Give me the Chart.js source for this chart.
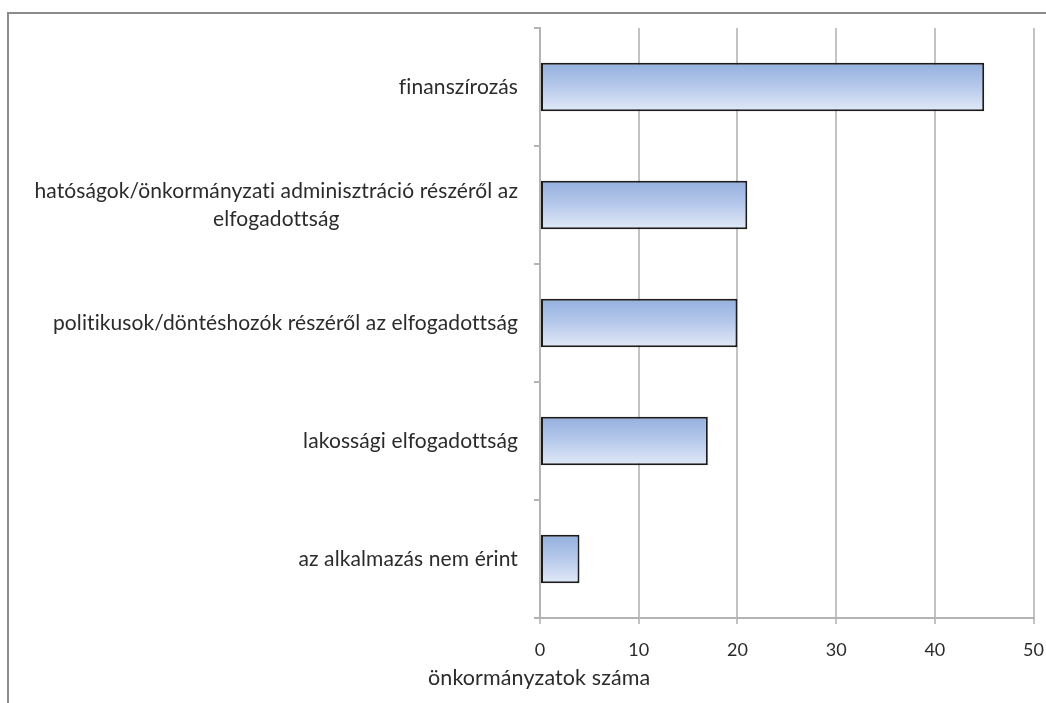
<!DOCTYPE html>
<html>
<head>
<meta charset="utf-8">
<script src="https://cdn.jsdelivr.net/npm/chart.js@4/dist/chart.umd.min.js"></script>
<style>
  html, body { margin: 0; padding: 0; background: #fff; overflow: hidden; }
  #wrap { position: relative; width: 1046px; height: 703px; overflow: hidden; }
  #frame { position: absolute; left: 7px; top: 12px; width: 1100px; height: 800px;
           border-top: 2px solid #8c8c8c; border-left: 2px solid #8c8c8c; }
  #c { position: absolute; left: 0; top: 0; }
</style>
</head>
<body>
<div id="wrap">
  <div id="frame"></div>
  <canvas id="c" width="1059" height="703"></canvas>
</div>
<script>
// kategóriák (sorok), több soros címkék tömbként
const categories = [
  ['finanszírozás'],
  ['hatóságok/önkormányzati adminisztráció részéről az', 'elfogadottság'],
  ['politikusok/döntéshozók részéről az elfogadottság'],
  ['lakossági elfogadottság'],
  ['az alkalmazás nem érint']
];
const counts = [45, 21, 20, 17, 4];
const xMin = 0;
const xMax = 50;
const xStep = 10;
const axisTitle = 'önkormányzatok száma';

const BAR_PCT = 0.41;
const FONT = 'Lato, "Open Sans", sans-serif';
const TEXT = '#2b2b2b';

function barGradient(c) {
  const chart = c.chart;
  const ys = chart.scales.y;
  if (!chart.chartArea || !ys) return '#b8cbea';
  const cy = ys.getPixelForValue(c.dataIndex);
  const h = (ys.height / categories.length) * BAR_PCT;
  const g = chart.ctx.createLinearGradient(0, cy - h / 2, 0, cy + h / 2);
  g.addColorStop(0, '#94b0de');
  g.addColorStop(0.45, '#b3c6ea');
  g.addColorStop(1, '#e1e9f7');
  return g;
}

// kategória címkék: jobbra igazítva, a sorok egymáshoz képest középre
const labelPlugin = {
  id: 'catLabels',
  afterDraw(chart) {
    const ctx = chart.ctx;
    const ys = chart.scales.y;
    ctx.save();
    ctx.fillStyle = TEXT;
    ctx.textBaseline = 'middle';
    ctx.textAlign = 'center';
    ctx.letterSpacing = '0.1px';
    ctx.font = '21px ' + FONT;
    const right = ys.right - 22;
    const lh = 28;
    categories.forEach((lines, i) => {
      const cy = ys.getPixelForValue(i);
      const w = Math.max(...lines.map(l => ctx.measureText(l).width));
      const cx = right - w / 2;
      lines.forEach((l, j) => ctx.fillText(l, cx, cy + (j - (lines.length - 1) / 2) * lh));
    });
    ctx.textAlign = 'left';
    ctx.font = '21.5px ' + FONT;
    ctx.fillText(axisTitle, 428, 678);
    ctx.restore();
  }
};

new Chart(document.getElementById('c'), {
  type: 'bar',
  data: {
    labels: categories.map(l => l.join(' ')),
    datasets: [{
      data: counts,
      backgroundColor: barGradient,
      borderColor: '#1c1c1c',
      borderWidth: 2,
      borderSkipped: false,
      barPercentage: BAR_PCT,
      categoryPercentage: 1
    }]
  },
  options: {
    indexAxis: 'y',
    responsive: false,
    animation: false,
    layout: { padding: { top: 28, right: 0, left: 0, bottom: 0 }, autoPadding: false },
    plugins: { legend: { display: false }, tooltip: { enabled: false } },
    scales: {
      x: {
        min: xMin, max: xMax,
        ticks: { stepSize: xStep, color: TEXT, font: { family: FONT, size: 18 }, padding: 15 },
        grid: { color: '#c3c3c3', lineWidth: 2, tickLength: 6 },
        border: { color: '#b4b4b4', width: 2 },
        afterFit: s => { s.height = 85; }
      },
      y: {
        ticks: { display: false },
        grid: { drawOnChartArea: false, offset: true, tickLength: 6, color: '#b4b4b4', lineWidth: 2 },
        border: { color: '#b4b4b4', width: 2 },
        afterFit: s => { s.width = 540; }
      }
    }
  },
  plugins: [labelPlugin]
});
</script>
</body>
</html>
